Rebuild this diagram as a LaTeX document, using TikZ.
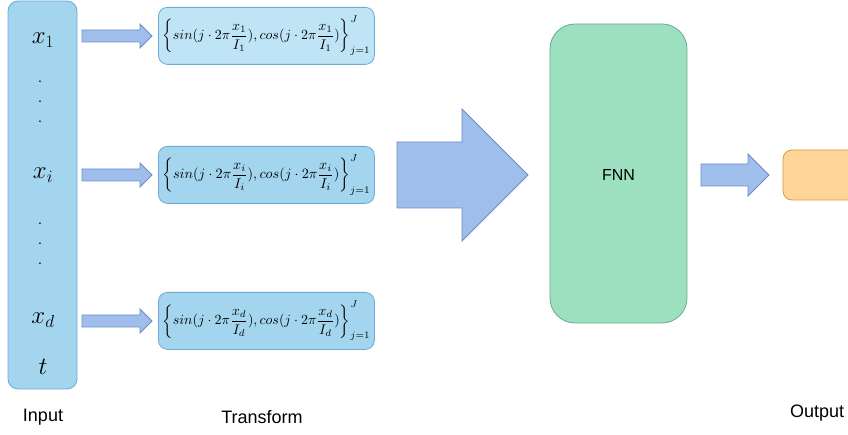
\documentclass[tikz,border=0pt]{standalone}
\usepackage{amsmath}
\usepackage{fontspec}
\setmainfont{Liberation Sans}
\usepackage{graphicx}
\definecolor{inFill}{HTML}{A3D5EE}
\definecolor{inLight}{HTML}{BEE4F5}
\definecolor{inLine}{HTML}{6EAAD6}
\definecolor{arFill}{HTML}{A0BEEC}
\definecolor{arLine}{HTML}{6C8EBF}
\definecolor{nnFill}{HTML}{9DE0C0}
\definecolor{nnLine}{HTML}{67AB8F}
\definecolor{outFill}{HTML}{FFD599}
\definecolor{outLine}{HTML}{D79B3A}
\tikzset{
  inbox/.style={draw=inLine, fill=inFill, rounded corners=10pt, line width=0.8pt},
  tbox/.style={draw=inLine, rounded corners=9pt, line width=0.8pt, minimum width=216pt, minimum height=57pt, inner sep=0pt, anchor=north west},
  blockarrow/.style={draw=arLine, fill=arFill, line width=0.8pt, line join=miter},
  var/.style={font=\fontsize{24}{28}\selectfont, inner sep=0pt},
  vdot/.style={font=\fontsize{14}{16}\selectfont, inner sep=0pt},
  lab/.style={font=\fontsize{18}{21}\selectfont, inner sep=0pt},
}
\newcommand{\fourier}[2]{\resizebox{208pt}{!}{$\left\{ sin(j\cdot 2\pi\dfrac{x_{#1}}{I_{#2}}), cos(j\cdot 2\pi\dfrac{x_{#1}}{I_{#2}})\right\}_{j=1}^{J}$}}
\begin{document}
\begin{tikzpicture}[x=1pt,y=-1pt]
\useasboundingbox (0,0) rectangle (848,435);
\clip (0,0) rectangle (848,435);
% input column
\draw[inbox] (8,1) rectangle (77,389);
\node[var] (x1) at (43,40) {$x_1$};
\node[vdot] (d1) at (40,82) {.};
\node[vdot] (d2) at (40,102) {.};
\node[vdot] (d3) at (40,122) {.};
\node[var] (xi) at (43,175) {$x_i$};
\node[vdot] (d4) at (40,224) {.};
\node[vdot] (d5) at (40,244) {.};
\node[vdot] (d6) at (40,264) {.};
\node[var] (xd) at (43,320) {$x_d$};
\node[var] (t) at (43,367) {$t$};
% transform boxes
\node[tbox, fill=inLight] (f1) at (158,7) {};
\node[tbox, fill=inFill] (fi) at (158,146) {};
\node[tbox, fill=inFill] (fd) at (158,292) {};
\node (e1) at (f1.center) {\fourier{1}{1}};
\node (ei) at (fi.center) {\fourier{i}{i}};
\node (ed) at (fd.center) {\fourier{d}{d}};
% small arrows
\foreach \yy in {36,175,321}{
  \draw[blockarrow] (82,\yy-6) -- (140,\yy-6) -- (140,\yy-12) -- (152,\yy) -- (140,\yy+12) -- (140,\yy+6) -- (82,\yy+6) -- cycle;
}
% big arrow
\draw[blockarrow] (397,142) -- (462,142) -- (462,109) -- (528,175) -- (462,241) -- (462,208) -- (397,208) -- cycle;
% FNN
\draw[draw=nnLine, fill=nnFill, rounded corners=25pt, line width=0.8pt] (550,24) rectangle (687,323);
\node[font=\fontsize{16}{19}\selectfont] (fnn) at (618.5,175) {FNN};
% arrow to output
\draw[blockarrow] (701,164) -- (748,164) -- (748,154) -- (769,175) -- (748,196) -- (748,186) -- (701,186) -- cycle;
% output box
\draw[draw=outLine, fill=outFill, rounded corners=9pt, line width=0.8pt] (783,150) rectangle (880,200);
% labels
\node[lab] (linput) at (43,417) {Input};
\node[lab] (ltrans) at (262,417) {Transform};
\node[lab, anchor=west] (lout) at (790,413) {Output};
\end{tikzpicture}
\end{document}
